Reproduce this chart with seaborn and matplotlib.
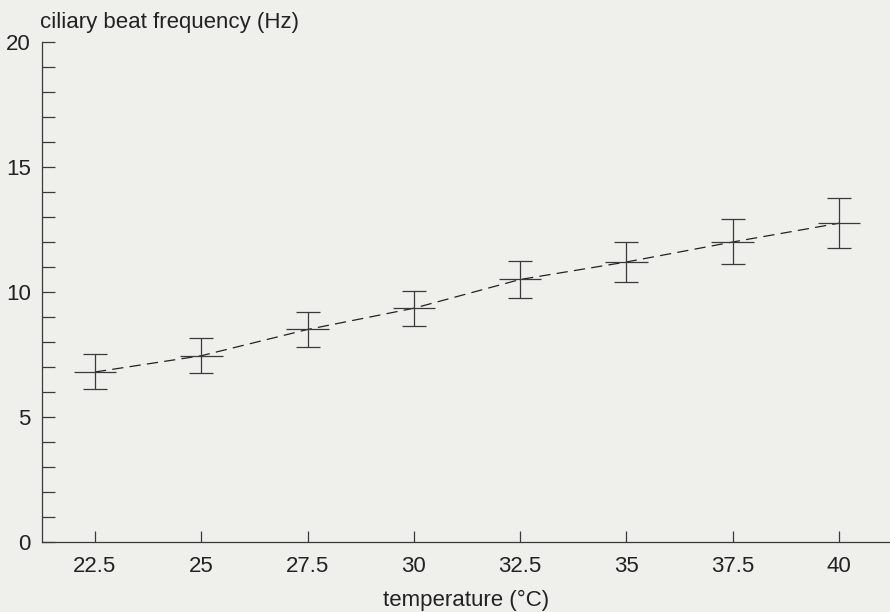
import numpy as np
import pandas as pd
import seaborn as sns
import matplotlib.pyplot as plt

# Values
temperature = [22.5, 25, 27.5, 30, 32.5, 35, 37.5, 40]
frequency = [6.8, 7.45, 8.5, 9.35, 10.5, 11.2, 12.0, 12.75]
freq_err = [0.7, 0.7, 0.7, 0.7, 0.75, 0.8, 0.9, 1.0]
temp_err = [0.5, 0.5, 0.5, 0.5, 0.5, 0.5, 0.5, 0.5]
x_ticks = [22.5, 25, 27.5, 30, 32.5, 35, 37.5, 40]
x_tick_labels = ["22.5", "25", "27.5", "30", "32.5", "35", "37.5", "40"]
y_ticks = [0, 5, 10, 15, 20]

data = pd.DataFrame({"temperature": temperature, "frequency": frequency})

sns.set_theme(style="ticks")
plt.rcParams["font.family"] = ["Liberation Sans", "DejaVu Sans"]

ink = "#3a3a3a"
text_ink = "#222222"
paper = "#efefeb"
fs = 16

fig = plt.figure(figsize=(8.9, 6.12), dpi=100, facecolor=paper)
ax = fig.add_axes([0.047, 0.1144, 0.953, 0.817])
ax.set_facecolor(paper)

# Dashed trend line through the means
sns.lineplot(data=data, x="temperature", y="frequency", ax=ax,
             color="#222222", linewidth=0.9)
ax.lines[0].set_dashes([9, 5])

# Vertical error bars with caps, horizontal bars without
ax.errorbar(temperature, frequency, yerr=freq_err, fmt="none",
            ecolor=ink, elinewidth=0.9, capsize=8.5, capthick=0.9)
ax.errorbar(temperature, frequency, xerr=temp_err, fmt="none",
            ecolor=ink, elinewidth=0.9, capsize=0)

ax.set_xlim(21.25, 41.2)
ax.set_ylim(0, 20)
ax.set_xticks(x_ticks)
ax.set_xticklabels(x_tick_labels)
ax.set_yticks(y_ticks)
ax.set_yticks(np.arange(0, 21, 1), minor=True)

ax.tick_params(axis="both", direction="in", colors=ink, labelcolor=text_ink,
               labelsize=fs, width=0.9)
ax.tick_params(axis="x", which="major", length=8, pad=10)
ax.tick_params(axis="y", which="major", length=9, pad=8)
ax.tick_params(axis="y", which="minor", length=9, width=0.9, direction="in", colors=ink)
ax.tick_params(axis="x", which="minor", length=0)

for side in ["top", "right"]:
    ax.spines[side].set_visible(False)
for side in ["left", "bottom"]:
    ax.spines[side].set_color(ink)
    ax.spines[side].set_linewidth(0.9)

ax.set_xlabel("temperature (°C)", fontsize=fs, color=text_ink, labelpad=9)
ax.set_ylabel("")
fig.text(0.045, 0.955, "ciliary beat frequency (Hz)", fontsize=fs,
         color=text_ink, ha="left", va="baseline")

fig.savefig("out.png", dpi=100, facecolor=paper)
